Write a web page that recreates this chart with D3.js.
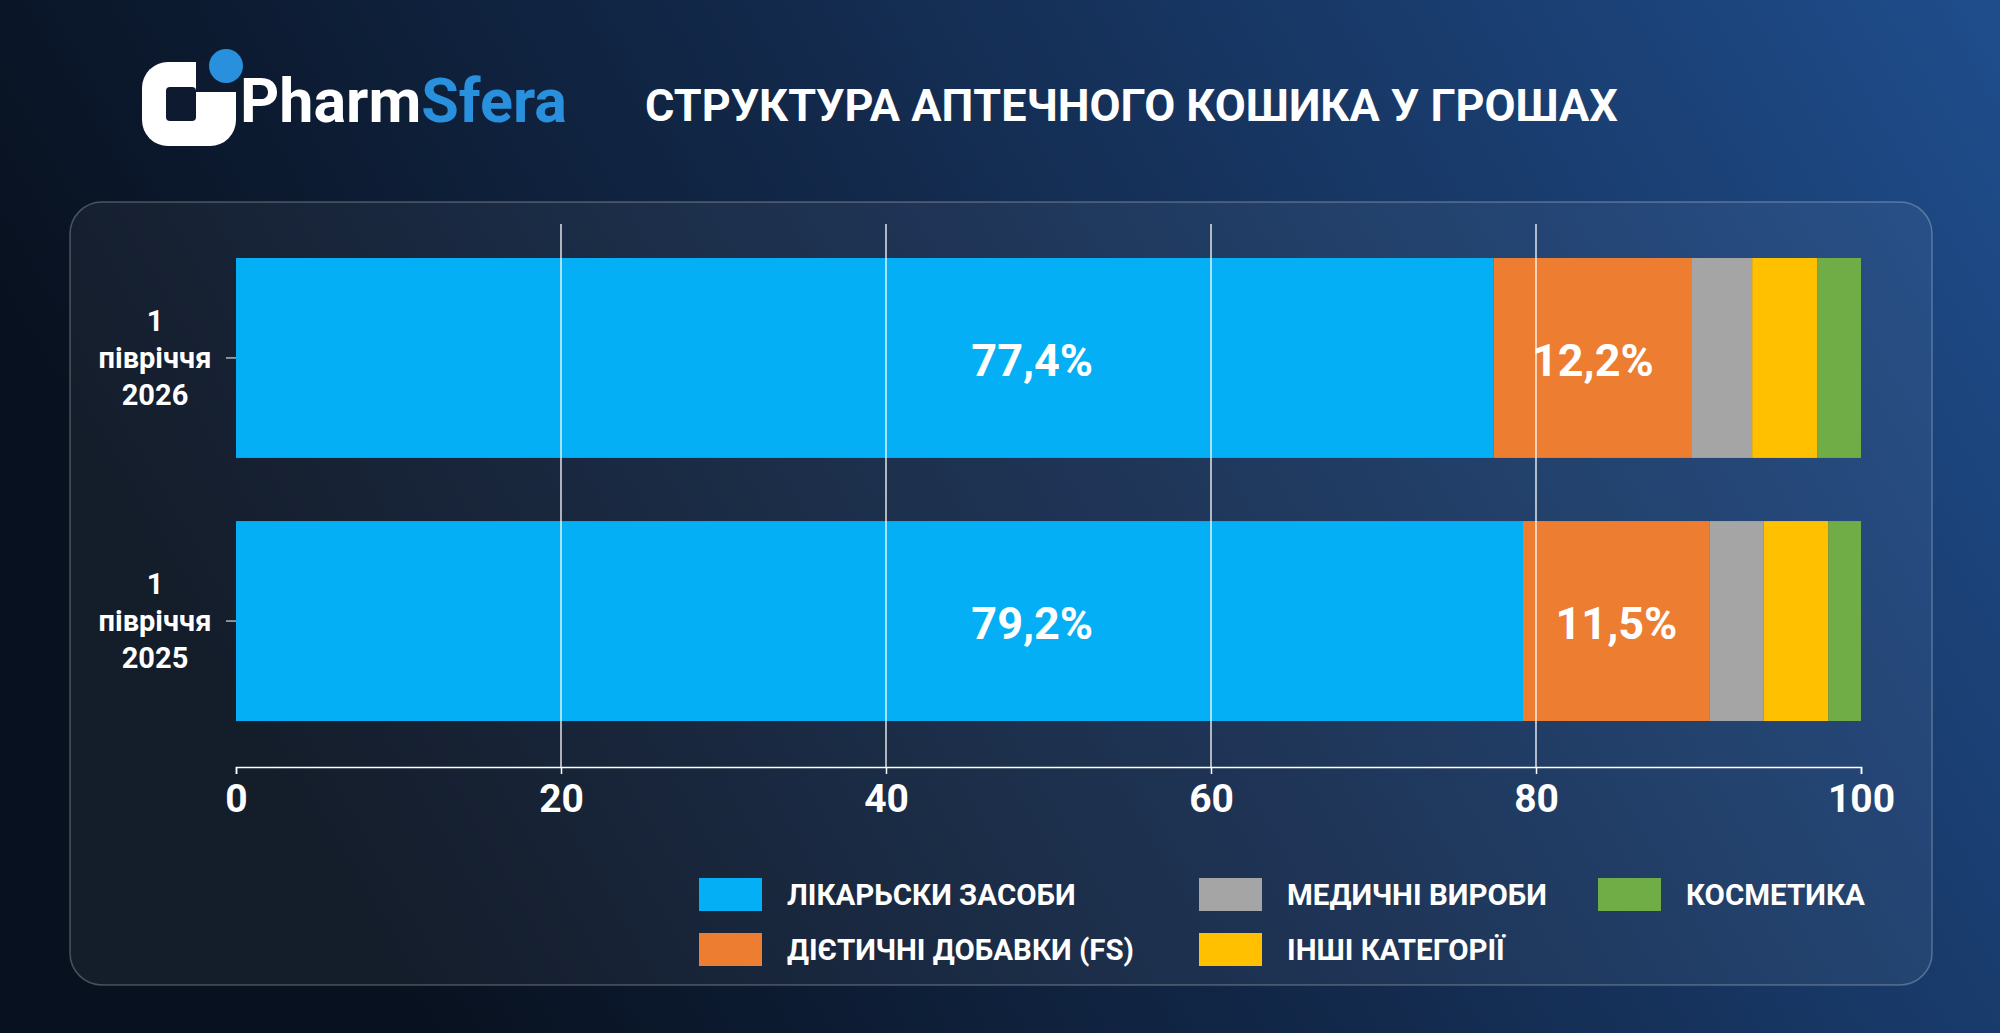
<!DOCTYPE html>
<html><head><meta charset="utf-8">
<script src="https://cdn.jsdelivr.net/npm/d3@7"></script>
<style>
body{margin:0;background:#0b1526;overflow:hidden}
text{font-family:Roboto,"Noto Sans",sans-serif}
</style></head><body>
<script>
// Data
var periods = ["1 півріччя 2026", "1 півріччя 2025"];
var categories = ["ЛІКАРЬСКИ ЗАСОБИ", "ДІЄТИЧНІ ДОБАВКИ (FS)", "МЕДИЧНІ ВИРОБИ", "ІНШІ КАТЕГОРІЇ", "КОСМЕТИКА"];
var colors = ["#04aff5", "#ed7d31", "#a5a5a5", "#ffc000", "#70ad47"];
var values2026 = [77.4, 12.2, 3.7, 4.0, 2.7];
var values2025 = [79.2, 11.5, 3.3, 4.0, 2.0];
var xTicks = [0, 20, 40, 60, 80, 100];

var W = 2000, H = 1033;
var svg = d3.select("body").append("svg").attr("width", W).attr("height", H);
var defs = svg.append("defs");
var bg = defs.append("linearGradient").attr("id", "bg").attr("x1", 0).attr("x2", 1).attr("y1", 0.3).attr("y2", 0);
bg.append("stop").attr("offset", "0%").attr("stop-color", "#08111f");
bg.append("stop").attr("offset", "45%").attr("stop-color", "#132a4d");
bg.append("stop").attr("offset", "100%").attr("stop-color", "#1f4d8c");
svg.append("rect").attr("width", W).attr("height", H).attr("fill", "url(#bg)");

// Panel
svg.append("rect").attr("x", 70).attr("y", 202).attr("width", 1862).attr("height", 783)
	.attr("rx", 32).attr("fill", "rgba(255,255,255,0.05)")
	.attr("stroke", "rgba(255,255,255,0.25)").attr("stroke-width", 1.5);

// Logo
var logo = svg.append("g");
logo.append("rect").attr("x", 142).attr("y", 62).attr("width", 94).attr("height", 84).attr("rx", 26).attr("fill", "#fff");
logo.append("rect").attr("x", 166).attr("y", 87).attr("width", 30).attr("height", 34).attr("rx", 4).attr("fill", "#0d1a30");
logo.append("rect").attr("x", 196).attr("y", 60).attr("width", 42).attr("height", 32).attr("fill", "#0d1a30");
logo.append("circle").attr("cx", 226).attr("cy", 66).attr("r", 17).attr("fill", "#2990dd");
var lt = logo.append("text").attr("x", 240).attr("y", 122).attr("font-size", 61).attr("font-weight", 700);
lt.append("tspan").attr("fill", "#fff").text("Pharm");
lt.append("tspan").attr("fill", "#2990dd").text("Sfera");

svg.append("text").attr("x", 645).attr("y", 121).attr("font-size", 45).attr("font-weight", 700)
	.attr("fill", "#fff").text("СТРУКТУРА АПТЕЧНОГО КОШИКА У ГРОШАХ");

// Chart
var x = d3.scaleLinear().domain([0, 100]).range([236, 1861]);
var y = d3.scaleBand().domain(periods).range([258, 721]).paddingInner(0.24).paddingOuter(0);

var rows = [values2026, values2025].map(function(v, i) {
	var acc = 0;
	return v.map(function(d, j) {
		var s = {period: periods[i], cat: j, x0: acc, x1: acc + d, v: d};
		acc += d;
		return s;
	});
});

var g = svg.append("g");
rows.forEach(function(r) {
	g.selectAll(null).data(r).enter().append("rect")
		.attr("x", d => x(d.x0))
		.attr("width", d => x(d.x1) - x(d.x0))
		.attr("y", d => y(d.period))
		.attr("height", y.bandwidth())
		.attr("fill", d => colors[d.cat]);
	g.selectAll(null).data(r.filter(d => d.cat < 2)).enter().append("text")
		.attr("x", d => d.cat == 0 ? x(49) : x((d.x0 + d.x1) / 2))
		.attr("y", d => y(d.period) + y.bandwidth() / 2 + 18)
		.attr("text-anchor", "middle").attr("font-size", 45).attr("font-weight", 700)
		.attr("fill", "#fff").text(d => d.v.toFixed(1).replace(".", ",") + "%");
});

// Gridlines (drawn over bars)
svg.append("g").selectAll("line").data(xTicks.slice(1, 5)).enter().append("line")
	.attr("x1", d => x(d)).attr("x2", d => x(d)).attr("y1", 224).attr("y2", 767)
	.attr("stroke", "#fff").attr("stroke-width", 1.3);

// X axis
var xa = svg.append("g").attr("transform", "translate(0,767)")
	.call(d3.axisBottom(x).tickValues(xTicks).tickSize(7).tickPadding(10));
xa.select(".domain").attr("stroke", "#fff").attr("stroke-width", 1.5);
xa.selectAll(".tick line").attr("stroke", "#fff").attr("stroke-width", 1.5);
xa.selectAll("text").attr("fill", "#fff").attr("font-size", 39).attr("font-weight", 700)
	.attr("font-family", "Roboto");

// Y labels
periods.forEach(function(p) {
	var cy = y(p) + y.bandwidth() / 2;
	svg.append("line").attr("x1", 226).attr("x2", 236).attr("y1", cy).attr("y2", cy).attr("stroke", "#fff");
	var parts = p.split(" ");
	var t = svg.append("text").attr("x", 155).attr("y", cy - 27).attr("text-anchor", "middle")
		.attr("font-size", 29).attr("font-weight", 700).attr("fill", "#fff");
	parts.forEach(function(s, i) {
		t.append("tspan").attr("x", 155).attr("dy", i == 0 ? 0 : 37).text(s);
	});
});

// Legend
var legendPos = [[699, 895], [699, 950], [1199, 895], [1199, 950], [1598, 895]];
var lg = svg.append("g").selectAll("g").data(categories).enter().append("g")
	.attr("transform", (d, i) => "translate(" + legendPos[i][0] + "," + legendPos[i][1] + ")");
lg.append("rect").attr("x", 0).attr("y", -17).attr("width", 63).attr("height", 33).attr("fill", (d, i) => colors[i]);
lg.append("text").attr("x", 88).attr("y", 10).attr("font-size", 29.5).attr("font-weight", 700)
	.attr("fill", "#fff").text(d => d);
</script>
</body></html>
